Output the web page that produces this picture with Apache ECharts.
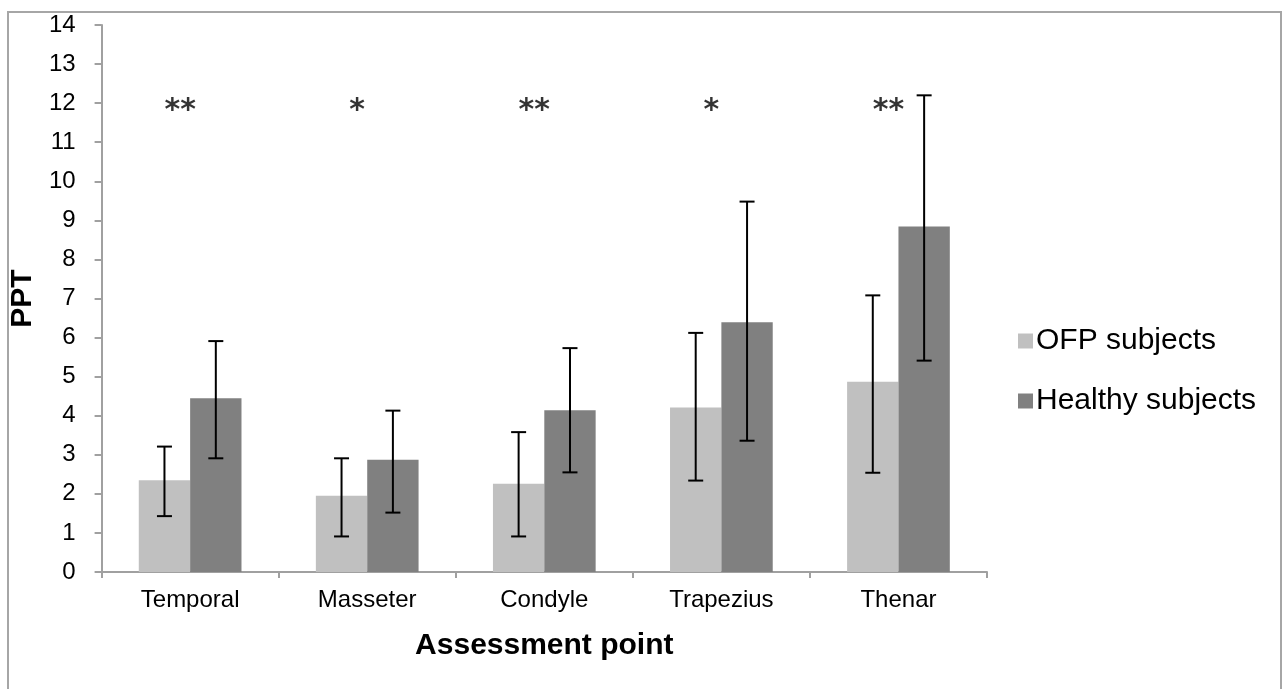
<!DOCTYPE html>
<html>
<head>
<meta charset="utf-8">
<script src="https://cdn.jsdelivr.net/npm/echarts@6/dist/echarts.min.js"></script>
<style>
  html, body { margin: 0; padding: 0; background: #fff; }
  #main { width: 1283px; height: 689px; }
</style>
</head>
<body>
<div id="main"></div>
<script>
// data
const categories = ['Temporal', 'Masseter', 'Condyle', 'Trapezius', 'Thenar']
const ofpMean = [2.35, 1.95, 2.26, 4.21, 4.87]
const ofpLow = [1.43, 0.91, 0.91, 2.34, 2.54]
const ofpHigh = [3.21, 2.91, 3.58, 6.12, 7.08]
const healthyMean = [4.45, 2.87, 4.14, 6.39, 8.84]
const healthyLow = [2.91, 1.52, 2.55, 3.36, 5.41]
const healthyHigh = [5.91, 4.13, 5.73, 9.48, 12.2]
const stars = ['**', '*', '**', '*', '**']
const starLevel = 11.9

const FONT = '"Liberation Sans", Arial, sans-serif'
const GAP = 0.42

var chart = echarts.init(document.getElementById('main'))

function errorSeries (low, high, side) {
  return {
    type: 'custom',
    z: 10,
    silent: true,
    data: low.map((l, i) => [i, l, high[i]]),
    encode: { x: 0, y: [1, 2] },
    renderItem: function (params, api) {
      const band = api.size([1, 0])[0]
      const bw = band * (1 - GAP) / 2
      const lo = api.coord([api.value(0), api.value(1)])
      const hi = api.coord([api.value(0), api.value(2)])
      const x = lo[0] + side * bw / 2
      const cap = 7.5
      const style = { stroke: '#000', lineWidth: 2 }
      return {
        type: 'group',
        children: [
          { type: 'line', shape: { x1: x, y1: lo[1], x2: x, y2: hi[1] }, style },
          { type: 'line', shape: { x1: x - cap, y1: lo[1], x2: x + cap, y2: lo[1] }, style },
          { type: 'line', shape: { x1: x - cap, y1: hi[1], x2: x + cap, y2: hi[1] }, style }
        ]
      }
    }
  }
}

const option = {
  animation: false,
  backgroundColor: '#fff',
  graphic: [{
    type: 'rect',
    shape: { x: 8, y: 12, width: 1273, height: 700 },
    style: { fill: 'none', stroke: '#a6a6a6', lineWidth: 2 },
    silent: true
  }],
  grid: { left: 100, right: 296, top: 25, bottom: 117 },
  legend: {
    orient: 'vertical',
    left: 1013,
    top: 321,
    itemWidth: 15,
    itemHeight: 15,
    itemGap: 30,
    icon: 'rect',
    textStyle: { fontFamily: FONT, fontSize: 30, color: '#000', padding: [0, 0, 0, -2] },
    data: ['OFP subjects', 'Healthy subjects']
  },
  xAxis: {
    type: 'category',
    data: categories,
    name: 'Assessment point',
    nameLocation: 'middle',
    nameGap: 59,
    nameTextStyle: { fontFamily: FONT, fontSize: 30, fontWeight: 'bold', color: '#000' },
    axisLine: { lineStyle: { color: '#a0a0a0', width: 2 } },
    axisTick: { show: true, length: 6, lineStyle: { color: '#a0a0a0', width: 2 } },
    axisLabel: { fontFamily: FONT, fontSize: 24, color: '#000', margin: 16 }
  },
  yAxis: {
    type: 'value',
    min: 0,
    max: 14,
    interval: 1,
    name: 'PPT',
    nameLocation: 'middle',
    nameRotate: 90,
    nameGap: 50,
    nameTextStyle: { fontFamily: FONT, fontSize: 30, fontWeight: 'bold', color: '#000' },
    axisLine: { show: true, lineStyle: { color: '#a0a0a0', width: 2 } },
    axisTick: { show: true, length: 7, lineStyle: { color: '#a0a0a0', width: 2 } },
    axisLabel: { fontFamily: FONT, fontSize: 24, color: '#000', margin: 26 },
    splitLine: { show: false }
  },
  series: [
    {
      name: 'OFP subjects',
      type: 'bar',
      data: ofpMean,
      barGap: 0,
      barCategoryGap: (GAP * 100) + '%',
      itemStyle: { color: '#c0c0c0' }
    },
    {
      name: 'Healthy subjects',
      type: 'bar',
      data: healthyMean,
      barGap: 0,
      barCategoryGap: (GAP * 100) + '%',
      itemStyle: { color: '#808080' }
    },
    errorSeries(ofpLow, ofpHigh, -1),
    errorSeries(healthyLow, healthyHigh, 1),
    {
      type: 'scatter',
      symbolSize: 0,
      silent: true,
      data: stars.map((s, i) => [i, starLevel]),
      label: {
        show: true,
        position: 'inside',
        offset: [-10, 4],
        formatter: p => stars[p.dataIndex],
        fontFamily: '"DejaVu Sans", sans-serif',
        fontSize: 30,
        fontWeight: 'bold',
        color: '#000'
      }
    }
  ]
}

chart.setOption(option)
</script>
</body>
</html>
